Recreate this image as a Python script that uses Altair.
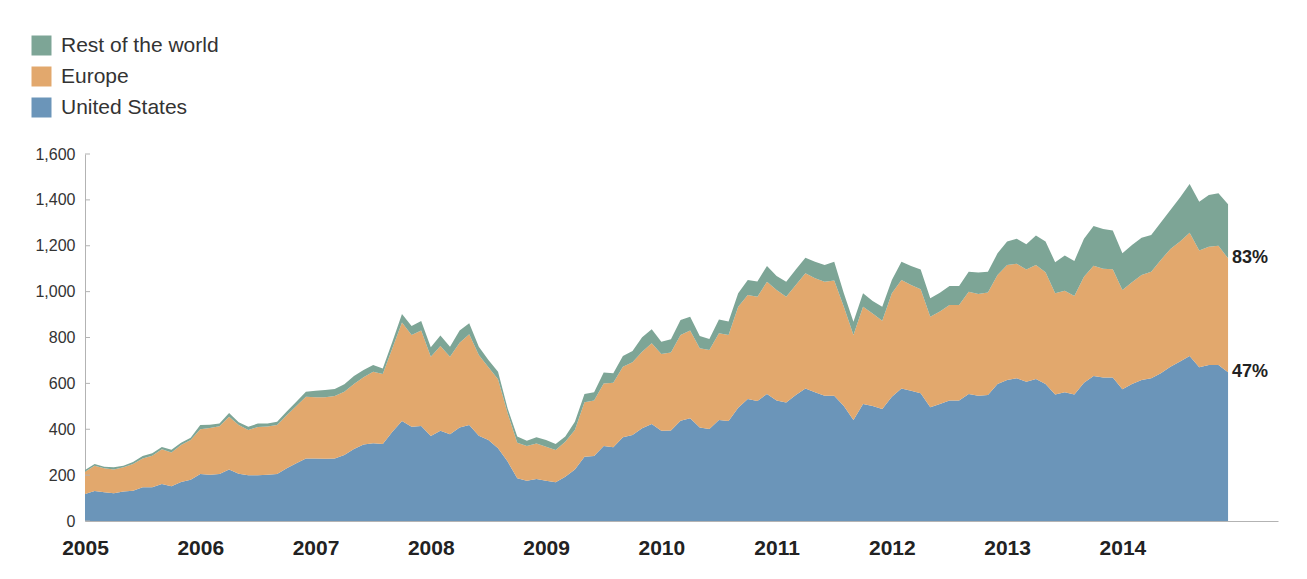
import altair as alt
import pandas as pd

# Monthly values, Jan 2005 .. Dec 2014
us = [118, 131, 125, 121, 129, 132, 147, 147, 161, 151, 170, 180,
      205, 202, 205, 225, 206, 199, 200, 202, 205, 230, 252, 273,
      272, 271, 272, 288, 314, 334, 339, 336, 389, 436, 411, 414,
      371, 394, 378, 408, 419, 372, 353, 317, 259, 186, 176, 183,
      176, 169, 193, 225, 280, 283, 327, 321, 365, 375, 404, 423,
      394, 395, 437, 448, 408, 401, 440, 436, 494, 532, 523, 554,
      525, 517, 549, 578, 561, 546, 546, 501, 440, 510, 501, 488,
      542, 578, 568, 557, 496, 510, 525, 525, 554, 546, 549, 597,
      615, 622, 607, 619, 597, 552, 561, 552, 603, 632, 626, 626,
      574, 597, 615, 622, 644, 673, 695, 719, 670, 680, 680, 648]

europe = [97, 110, 105, 104, 105, 116, 126, 138, 152, 148, 161, 173,
          195, 203, 208, 230, 213, 198, 210, 210, 214, 231, 249, 269,
          267, 269, 273, 276, 283, 293, 312, 305, 364, 429, 400, 416,
          345, 369, 338, 369, 395, 352, 317, 301, 211, 155, 151, 155,
          148, 141, 153, 172, 238, 242, 273, 282, 308, 317, 334, 352,
          334, 340, 374, 382, 345, 345, 378, 375, 440, 453, 455, 489,
          482, 461, 480, 502, 497, 497, 502, 433, 371, 424, 404, 385,
          451, 473, 461, 453, 395, 403, 417, 417, 446, 444, 447, 476,
          501, 499, 490, 497, 487, 441, 443, 429, 462, 481, 474, 472,
          433, 444, 458, 465, 494, 513, 523, 538, 509, 516, 520, 497]

rest = [7, 7, 7, 9, 7, 9, 10, 10, 10, 12, 10, 10,
        18, 15, 12, 16, 11, 14, 15, 13, 14, 16, 19, 22,
        29, 31, 30, 32, 35, 31, 29, 24, 29, 37, 39, 42,
        41, 46, 44, 53, 48, 36, 32, 33, 21, 27, 23, 27,
        29, 26, 22, 36, 36, 36, 47, 41, 46, 49, 63, 61,
        54, 57, 65, 61, 54, 48, 61, 59, 59, 66, 66, 69,
        61, 65, 68, 68, 72, 73, 82, 59, 58, 59, 54, 61,
        58, 79, 83, 87, 80, 82, 83, 83, 87, 93, 91, 94,
        102, 110, 109, 129, 135, 135, 154, 153, 165, 173, 173, 168,
        160, 162, 162, 160, 163, 170, 192, 212, 213, 225, 229, 236]

series_names = ["United States", "Europe", "Rest of the world"]
series_colors = ["#6b95b9", "#e2a86d", "#7da596"]
year_labels = list(range(2005, 2015))
y_ticks = list(range(0, 1601, 200))
start_year = 2005

x_domain = [2005, 2015.35]
y_domain = [0, 1600]

rows = []
for i in range(len(us)):
    t = start_year + i / 12
    for k, (name, vals) in enumerate(zip(series_names, [us, europe, rest])):
        rows.append({"t": t, "series": name, "value": vals[i], "ord": k})
df = pd.DataFrame(rows)

legend_order = ["Rest of the world", "Europe", "United States"]
legend_colors = [series_colors[series_names.index(n)] for n in legend_order]

font = "Liberation Sans"
axis_gray = "#b3b3b3"

x_scale = alt.Scale(domain=x_domain, nice=False, zero=False)
y_scale = alt.Scale(domain=y_domain, nice=False)
x_axis = alt.Axis(values=year_labels, format="d", title=None,
                  labelFontSize=21, labelFontWeight="bold",
                  labelColor="#222", ticks=False, grid=False,
                  domainColor=axis_gray, labelPadding=16,
                  labelFlush=False, labelOverlap=False)
y_axis = alt.Axis(values=y_ticks, format=",d", title=None,
                  labelFontSize=16, labelColor="#333",
                  ticks=False, grid=False, domainColor=axis_gray,
                  labelPadding=10)

area = alt.Chart(df).mark_area(opacity=1, interpolate="linear").encode(
    x=alt.X("t:Q", scale=x_scale, axis=x_axis),
    y=alt.Y("value:Q", stack="zero", scale=y_scale, axis=y_axis),
    color=alt.Color("series:N",
                    scale=alt.Scale(domain=legend_order, range=legend_colors),
                    legend=alt.Legend(title=None, orient="none",
                                      legendX=-54, legendY=-119,
                                      symbolType="square", symbolSize=400,
                                      symbolStrokeWidth=0, symbolOpacity=1,
                                      labelFontSize=21, labelColor="#333",
                                      rowPadding=9, labelOffset=9,
                                      labelLimit=400, direction="vertical")),
    order=alt.Order("ord:Q", sort="ascending"),
)

ticks_df = pd.DataFrame({"value": y_ticks})
tick_rules = alt.Chart(ticks_df).mark_rule(color=axis_gray, strokeWidth=1).encode(
    y=alt.Y("value:Q", scale=y_scale, axis=y_axis),
    x=alt.value(0),
    x2=alt.value(5),
)

total_last = us[-1] + europe[-1] + rest[-1]
lab_df = pd.DataFrame({
    "t": [start_year + (len(us) - 1) / 12] * 2,
    "value": [us[-1] + europe[-1], us[-1]],
    "label": [f"{round(100 * (us[-1] + europe[-1]) / total_last)}%",
              f"{round(100 * us[-1] / total_last)}%"],
})
share_text = alt.Chart(lab_df).mark_text(
    align="left", baseline="middle", dx=4, fontSize=18,
    fontWeight="bold", color="#222"
).encode(
    x=alt.X("t:Q", scale=x_scale, axis=x_axis),
    y=alt.Y("value:Q", scale=y_scale, axis=y_axis),
    text="label:N",
)

chart = alt.layer(area, tick_rules, share_text).properties(
    width=1193, height=367,
    padding={"left": 77, "top": 146, "right": 21, "bottom": 50},
    autosize="none",
    background="white",
).configure(font=font).configure_view(stroke=None)

chart.save("out.html", embed_options={"renderer": "svg", "actions": False})
